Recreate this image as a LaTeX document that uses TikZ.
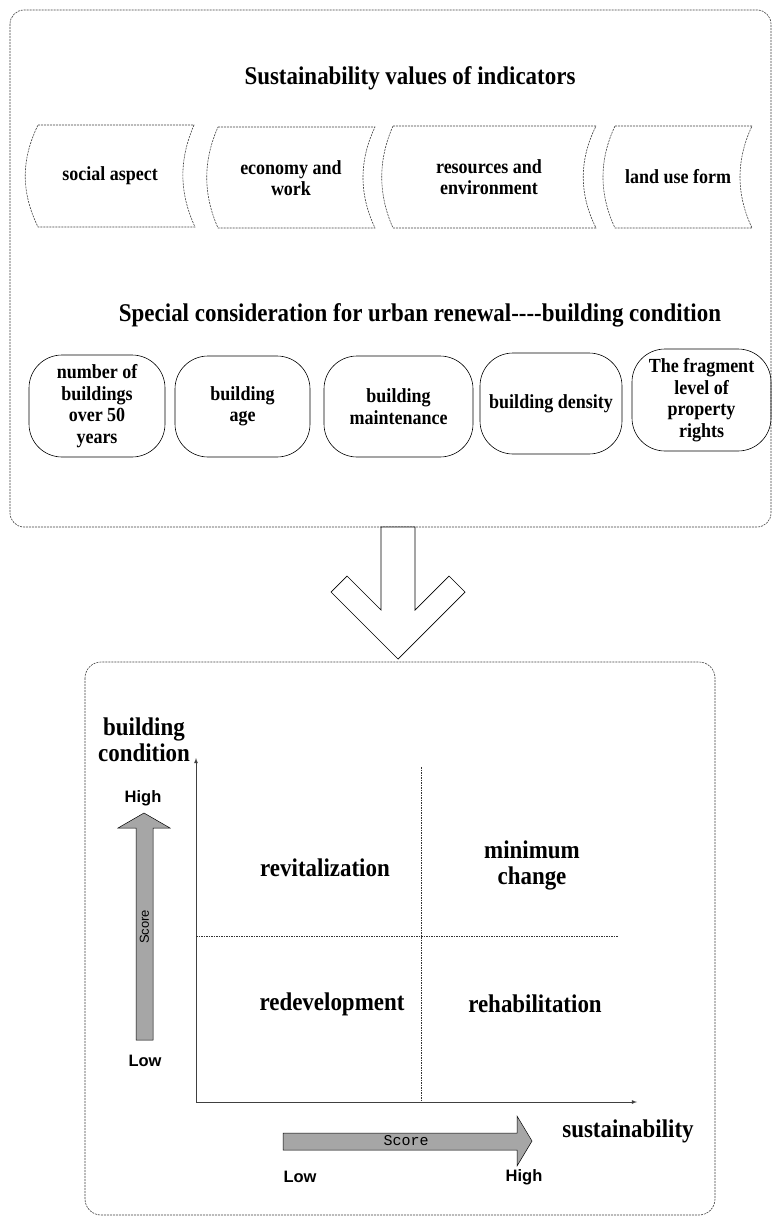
\documentclass[tikz,border=0pt]{standalone}
\usepackage{fontspec}
\setmainfont{Liberation Serif}
\setsansfont{Liberation Sans}
\setmonofont{Liberation Mono}
\newfontfamily\tallserif[FakeStretch=0.9]{Liberation Serif}
\usepackage{tikz}

\begin{document}
\begin{tikzpicture}[x=1pt, y=-1pt,
    dashbox/.style={draw=black!75, line width=0.6pt, dash pattern=on 2pt off 1pt},
    roundbox/.style={draw, line width=0.6pt, rounded corners=33pt, align=center, inner sep=0pt,
                     font=\tallserif\fontsize{20}{21.5}\selectfont\bfseries},
    boxtext/.style={align=center, font=\tallserif\fontsize{20}{21.5}\selectfont\bfseries},
    heading/.style={align=center, font=\tallserif\fontsize{25.5}{26}\selectfont\bfseries},
    sidetext/.style={font=\fontsize{16.5}{19}\selectfont\sffamily\bfseries},
    axisline/.style={draw=black!75, line width=0.8pt, -latex},
    divider/.style={draw=black!80, line width=0.5pt, dash pattern=on 1.5pt off 1pt},
    scorearrow/.style={draw, line width=0.5pt, fill=black!35}]
                    \useasboundingbox (0,0) rectangle (772,1217);
                    % Frames
                    \draw[dashbox, rounded corners=14pt] (10,10) rectangle (771,527);
                    \draw[dashbox, rounded corners=16pt] (85,662) rectangle (715,1215);
                    % Nodes
                    \node[heading] (values) at (410,78) {Sustainability values of indicators};
                    \draw[dashbox] (38,125) -- (194,125) .. controls (179,160) and (179,192) .. (195,227)
                        -- (38,227) .. controls (21,192) and (21,160) .. (38,125) -- cycle;
                    \draw[dashbox] (218,127) -- (375,127) .. controls (359,161) and (359,194) .. (375,228)
                        -- (218,228) .. controls (203,194) and (203,161) .. (218,127) -- cycle;
                    \draw[dashbox] (393,126) -- (596,126) .. controls (579,160) and (579,194) .. (596,228)
                        -- (393,228) .. controls (378,194) and (378,160) .. (393,126) -- cycle;
                    \draw[dashbox] (615,126) -- (752,126) .. controls (736,160) and (736,194) .. (752,228)
                        -- (615,228) .. controls (599,194) and (599,160) .. (615,126) -- cycle;
                    \node[boxtext] (social) at (110,176) {social aspect};
                    \node[boxtext] (economy) at (291,178) {economy and\\work};
                    \node[boxtext] (resources) at (489,177) {resources and\\environment};
                    \node[boxtext] (landuse) at (678,177) {land use form};
                    \node[heading] (special) at (420,315) {Special consideration for urban renewal-{}-{}-{}-building condition};
                    \node[roundbox, minimum width=136pt, minimum height=102pt] (over50) at (97,406) {number of\\buildings\\over 50\\years};
                    \node[roundbox, minimum width=135pt, minimum height=101pt] (age) at (242.5,406.5) {building\\age};
                    \node[roundbox, minimum width=149pt, minimum height=101pt] (maint) at (398.5,406.5) {building\\maintenance};
                    \node[roundbox, minimum width=142pt, minimum height=101pt] (density) at (551,403.5) {building density};
                    \node[roundbox, minimum width=139pt, minimum height=102pt] (rights) at (701.5,400) {The fragment\\level of\\property\\rights};
                    % Big arrow
                    \draw[line width=0.7pt, fill=white] (381,527) -- (381,610) -- (347,576) -- (331,592) -- (398,659)
                        -- (465,592) -- (449,576) -- (415,610) -- (415,527) -- cycle;
                    % Matrix
                    \coordinate (O) at (196,1102);
                    \coordinate (ytop) at (196,758);
                    \coordinate (xend) at (637,1102);
                    \coordinate (vtop) at (421,767);
                    \coordinate (vbot) at (421,1102);
                    \coordinate (hleft) at (196,936);
                    \coordinate (hright) at (618,936);
                    \draw[axisline] (O) -- (ytop);
                    \draw[axisline] (O) -- (xend);
                    \draw[divider] (vtop) -- (vbot);
                    \draw[divider] (hleft) -- (hright);
                    \node[heading] (bcond) at (144,740) {building\\condition};
                    \node[heading] (sustain) at (628,1131) {sustainability};
                    \node[heading] (revital) at (325,868) {revitalization};
                    \node[heading] (minchange) at (532,865) {minimum\\change};
                    \node[heading] (redevel) at (332,1004) {redevelopment};
                    \node[heading] (rehab) at (535,1004) {rehabilitation};
                    % Score arrows
                    \draw[scorearrow] (136,1040) -- (136,828) -- (118,828) -- (144,813) -- (170,828)
                        -- (153,828) -- (153,1040) -- cycle;
                    \draw[scorearrow] (283,1133) -- (517,1133) -- (517,1116) -- (532,1141) -- (517,1166)
                        -- (517,1150) -- (283,1150) -- cycle;
                    \node[rotate=90, font=\fontsize{13}{15}\selectfont\sffamily] (vscore) at (144.5,927) {Score};
                    \node[font=\fontsize{15}{17}\selectfont\ttfamily] (hscore) at (406,1141) {Score};
                    \node[sidetext] (vhigh) at (143,798) {High};
                    \node[sidetext] (vlow) at (145,1061) {Low};
                    \node[sidetext] (hlow) at (300,1177) {Low};
                    \node[sidetext] (hhigh) at (524,1177) {High};
                \end{tikzpicture}
\end{document}
